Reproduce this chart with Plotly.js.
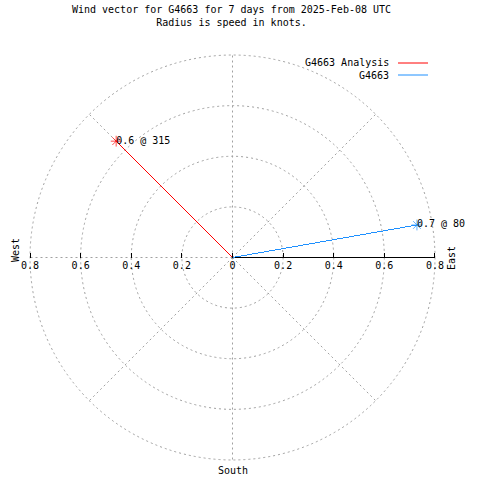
<!DOCTYPE html>
<html>
<head>
<meta charset="utf-8">
<script src="https://cdn.plot.ly/plotly-3.0.1.min.js"></script>
<style>
html,body{margin:0;padding:0;background:#fff;}
#chart{width:480px;height:480px;}
#chart .scatterlayer .js-line{shape-rendering:crispEdges;}
</style>
</head>
<body>
<div id="chart"></div>
<script>
// ---- data ----
const seriesNames = ['G4663 Analysis', 'G4663'];
const directionsDeg = [315, 80];
const speedsKnots = [0.65, 0.74];
const pointLabels = ['0.6 @ 315', '0.7 @ 80'];
const tickVals = [-0.8, -0.6, -0.4, -0.2, 0, 0.2, 0.4, 0.6, 0.8];
const tickText = ['0.8', '0.6', '0.4', '0.2', '0', '0.2', '0.4', '0.6', '0.8'];
const gridRadii = [0.2, 0.4, 0.6, 0.8];
const spokeAngles = [0, 45, 90, 135, 180, 225, 270, 315];
const titleLines = ['Wind vector for G4663 for 7 days from 2025-Feb-08 UTC', 'Radius is speed in knots.'];

// ---- style ----
const seriesColors = ['#ff0000', '#1e90ff'];
const FONT = 'DejaVu Sans Mono, monospace';
const GRID = '#a0a0a0';
const rMax = 0.8;

const toXY = (r, deg) => {
  const t = deg * Math.PI / 180;
  return [r * Math.sin(t), r * Math.cos(t)];
};

const traces = [];
seriesNames.forEach((name, i) => {
  const [ex, ey] = toXY(speedsKnots[i], directionsDeg[i]);
  traces.push({
    type: 'scatter',
    mode: 'lines+markers',
    name: name,
    x: [0, ex],
    y: [0, ey],
    line: {color: seriesColors[i], width: 1},
    marker: {symbol: 'asterisk-open', size: [0, 9], color: seriesColors[i], line: {color: seriesColors[i], width: 1}},
    cliponaxis: false,
    showlegend: false
  });
  traces.push({
    type: 'scatter',
    mode: 'text',
    name: name + ' label',
    x: [ex],
    y: [ey],
    text: [pointLabels[i]],
    textposition: 'middle right',
    textfont: {family: FONT, size: 10, color: '#000'},
    cliponaxis: false,
    showlegend: false
  });
});

const shapes = [];
gridRadii.forEach(r => shapes.push({
  type: 'circle', xref: 'x', yref: 'y', x0: -r, x1: r, y0: -r, y1: r,
  line: {color: GRID, width: 1, dash: '2px,3px'}, layer: 'below'
}));
spokeAngles.forEach(a => {
  const [sx, sy] = toXY(rMax, a);
  shapes.push({
    type: 'line', xref: 'x', yref: 'y', x0: 0, y0: 0, x1: sx, y1: sy,
    line: {color: GRID, width: 1, dash: '2px,3px'}, layer: 'below'
  });
});
// solid radial axis toward East
shapes.push({type: 'line', xref: 'x', yref: 'y', x0: 0, y0: 0, x1: rMax, y1: 0,
  line: {color: '#000', width: 1}, layer: 'below'});

// custom legend (text left of sample line)
const legendY = [63, 75];
const annotations = [];
seriesNames.forEach((name, i) => {
  annotations.push({xref: 'paper', yref: 'paper', x: 391 / 480, y: 1 - legendY[i] / 480,
    xanchor: 'right', yanchor: 'middle', text: name, showarrow: false,
    font: {family: FONT, size: 10, color: '#000'}});
  shapes.push({type: 'line', xref: 'paper', yref: 'paper', x0: 398 / 480, x1: 428 / 480,
    y0: 1 - legendY[i] / 480, y1: 1 - legendY[i] / 480, line: {color: seriesColors[i], width: 1}});
});

// compass labels
annotations.push({xref: 'paper', yref: 'paper', x: 451 / 480, y: 1 - 258 / 480, text: 'East',
  textangle: -90, showarrow: false, xanchor: 'center', yanchor: 'middle', font: {family: FONT, size: 10, color: '#000'}});
annotations.push({xref: 'paper', yref: 'paper', x: 15 / 480, y: 1 - 250 / 480, text: 'West',
  textangle: -90, showarrow: false, xanchor: 'center', yanchor: 'middle', font: {family: FONT, size: 10, color: '#000'}});
annotations.push({xref: 'paper', yref: 'paper', x: 233 / 480, y: 1 - 470 / 480, text: 'South',
  showarrow: false, xanchor: 'center', yanchor: 'middle', font: {family: FONT, size: 10, color: '#000'}});

// axis geometry: full-canvas plot area, centre at (232.5, 257.5), 253.1 px per knot
const pxPerUnit = 253.1;
const cx = 232.5, cy = 257.5;
const xRange = [-cx / pxPerUnit, (480 - cx) / pxPerUnit];
const yRange = [-(480 - cy) / pxPerUnit, cy / pxPerUnit];

const layout = {
  width: 480, height: 480,
  margin: {l: 0, r: 0, t: 0, b: 0, pad: 0},
  paper_bgcolor: '#fff', plot_bgcolor: '#fff',
  showlegend: false,
  hovermode: false,
  title: {text: titleLines.join('<br>'), font: {family: FONT, size: 10, color: '#000'},
    x: 231.5 / 480, xanchor: 'center', xref: 'paper', y: 1 - 13 / 480, yanchor: 'top', yref: 'container'},
  xaxis: {
    range: xRange, anchor: 'free', position: (0 - yRange[0]) / (yRange[1] - yRange[0]),
    showgrid: false, zeroline: false, showline: false,
    tickmode: 'array', tickvals: tickVals, ticktext: tickText,
    ticks: 'inside', ticklen: 5, tickcolor: '#000', tickwidth: 1,
    tickfont: {family: FONT, size: 10, color: '#000'}, automargin: false, fixedrange: true
  },
  yaxis: {range: yRange, visible: false, showgrid: false, zeroline: false, fixedrange: true},
  shapes: shapes,
  annotations: annotations
};

Plotly.newPlot('chart', traces, layout, {displayModeBar: false, staticPlot: true});
</script>
</body>
</html>
